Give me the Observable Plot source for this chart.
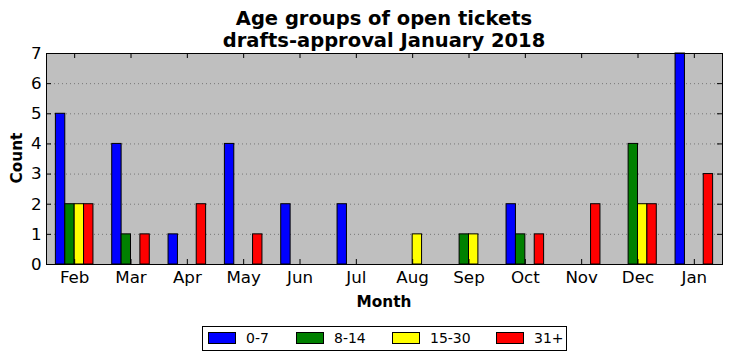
<!DOCTYPE html>
<html>
<head>
<meta charset="utf-8">
<script src="https://cdn.jsdelivr.net/npm/d3@7"></script>
<script src="https://cdn.jsdelivr.net/npm/@observablehq/plot@0.6"></script>
<style>
  html, body { margin: 0; padding: 0; background: #fff; }
  #wrap { position: relative; width: 732px; height: 361px; font-family: "DejaVu Sans", sans-serif; color: #000; }
  #wrap svg { position: absolute; left: 0; top: 0; }
  .title { position: absolute; left: 46px; width: 676px; top: 8px; text-align: center; font-weight: bold; font-size: 19.5px; line-height: 22px; }
  .ylab { position: absolute; left: 17px; top: 158px; transform: translate(-50%, -50%) rotate(-90deg); font-weight: bold; font-size: 15.3px; white-space: nowrap; }
  .xlab { position: absolute; left: 384px; top: 302px; transform: translate(-50%, -50%); font-weight: bold; font-size: 15.3px; white-space: nowrap; }
  .legend { position: absolute; left: 202px; top: 326px; width: 363px; height: 23px; border: 1px solid #000; font-size: 14px; box-sizing: content-box; }
  .sw { position: absolute; top: 5px; width: 26px; height: 10px; border: 1px solid #000; }
  .lt { position: absolute; top: 2px; line-height: 18px; white-space: nowrap; }
</style>
</head>
<body>
<div id="wrap"></div>
<script>
const months = ["Feb", "Mar", "Apr", "May", "Jun", "Jul", "Aug", "Sep", "Oct", "Nov", "Dec", "Jan"];
const groups = ["0-7", "8-14", "15-30", "31+"];
const colors = ["#0000ff", "#008000", "#ffff00", "#ff0000"];
const v0_7   = [5, 4, 1, 4, 2, 2, 0, 0, 2, 0, 0, 7];
const v8_14  = [2, 1, 0, 0, 0, 0, 0, 1, 1, 0, 4, 0];
const v15_30 = [2, 0, 0, 0, 0, 0, 1, 1, 0, 0, 2, 0];
const v31    = [2, 1, 2, 1, 0, 0, 0, 0, 1, 2, 2, 3];
const yTicks = [0, 1, 2, 3, 4, 5, 6, 7];
const gridTicks = [1, 2, 3, 4, 5, 6];

const series = [v0_7, v8_14, v15_30, v31];
const rows = months.flatMap((m, i) => groups.map((g, k) => ({
  i, k, g, v: series[k][i],
  x1: i - 1/3 + k/6, x2: i - 1/3 + (k + 1)/6
})));

const W = 732, H = 361, mL = 46, mR = 10, mT = 53, mB = 97;
const pw = W - mL - mR, ph = H - mT - mB;
const tk = 5;

const plot = Plot.plot({
  width: W, height: H,
  marginLeft: mL, marginRight: mR, marginTop: mT, marginBottom: mB,
  style: { fontFamily: "DejaVu Sans, sans-serif", fontSize: "16.7px", background: "transparent", color: "#000" },
  x: { domain: [-0.5, 11.5] },
  y: { domain: [0, 7] },
  color: { domain: groups, range: colors },
  marks: [
    Plot.frame({ fill: "#bfbfbf", stroke: null }),
    Plot.ruleY(gridTicks, { y: d => d, stroke: "#777", strokeWidth: 1, strokeDasharray: "1,3" }),
    Plot.rect(rows, { x1: "x1", x2: "x2", y1: 0, y2: "v", fill: "g", stroke: "#000", strokeWidth: 1 }),
    Plot.tickY(yTicks, { y: d => d, insetRight: pw - tk, stroke: "#000" }),
    Plot.tickY(yTicks, { y: d => d, insetLeft: pw - tk, stroke: "#000" }),
    Plot.tickX(d3.range(months.length), { x: d => d, insetBottom: ph - tk, stroke: "#000" }),
    Plot.tickX(d3.range(months.length), { x: d => d, insetTop: ph - tk, stroke: "#000" }),
    Plot.axisY({ ticks: yTicks, tickFormat: d => String(d), tickSize: 0, tickPadding: 5, label: null, fontSize: 16.7 }),
    Plot.axisX({ ticks: d3.range(months.length), tickFormat: i => months[i], tickSize: 0, tickPadding: 7, label: null, fontSize: 16.7 }),
    Plot.frame({ stroke: "#000", strokeWidth: 1 })
  ]
});

const wrap = document.getElementById("wrap");
wrap.appendChild(plot);

const title = document.createElement("div");
title.className = "title";
title.innerHTML = "Age groups of open tickets<br>drafts-approval January 2018";
wrap.appendChild(title);

const ylab = document.createElement("div");
ylab.className = "ylab"; ylab.textContent = "Count";
wrap.appendChild(ylab);

const xlab = document.createElement("div");
xlab.className = "xlab"; xlab.textContent = "Month";
wrap.appendChild(xlab);

const swLeft = [5, 93, 189, 293];
const txLeft = [43, 131, 227, 331];
const legend = document.createElement("div");
legend.className = "legend";
groups.forEach((g, k) => {
  const sw = document.createElement("div");
  sw.className = "sw"; sw.style.background = colors[k]; sw.style.left = swLeft[k] + "px";
  const t = document.createElement("span");
  t.className = "lt"; t.style.left = txLeft[k] + "px";
  t.textContent = g;
  legend.appendChild(sw); legend.appendChild(t);
});
wrap.appendChild(legend);
</script>
</body>
</html>
